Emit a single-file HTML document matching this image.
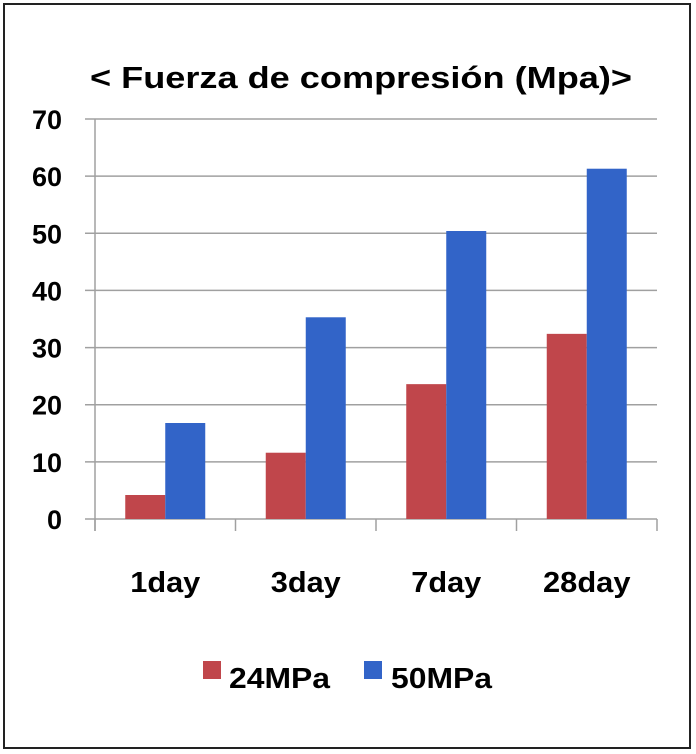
<!DOCTYPE html>
<html><head><meta charset="utf-8"><style>
html,body{margin:0;padding:0;background:#fff;}
svg{display:block;font-family:"Liberation Sans",sans-serif;font-weight:bold;}
</style></head><body>
<svg width="696" height="754" viewBox="0 0 696 754">
<rect x="4" y="4" width="686" height="744" fill="#fff" stroke="#222" stroke-width="2"/>
<text x="90" y="88" font-size="31" textLength="542" lengthAdjust="spacingAndGlyphs" fill="#000">&lt; Fuerza de compresión  (Mpa)&gt;</text>
<g id="grid"></g><g id="bars"></g><g id="axes"></g>
<g>
<rect x="203" y="661" width="18" height="18" fill="#c0464b"/>
<text x="229" y="688" font-size="29" textLength="101" lengthAdjust="spacingAndGlyphs">24MPa</text>
<rect x="364" y="661" width="18" height="18" fill="#3264c8"/>
<text x="391" y="688" font-size="29" textLength="101" lengthAdjust="spacingAndGlyphs">50MPa</text>
</g>
</svg>
<script>
const categories=["1day","3day","7day","28day"];
const series24=[4.2,11.6,23.6,32.4];
const series50=[16.8,35.3,50.4,61.3];
const yTicks=[0,10,20,30,40,50,60,70];
const ns="http://www.w3.org/2000/svg";
const X0=95,X1=657,Y0=519,Y1=119,YMAX=70;
const y=v=>Y0-(v/YMAX)*(Y0-Y1);
const bw=(X1-X0)/categories.length;
function mk(t,a,p){const e=document.createElementNS(ns,t);for(const k in a)e.setAttribute(k,a[k]);p.appendChild(e);return e;}
const grid=document.getElementById('grid'),bars=document.getElementById('bars'),axes=document.getElementById('axes');
yTicks.forEach(v=>{
 const l=mk('line',{x1:85,x2:X1,y1:y(v),y2:y(v),stroke:'#a0a0a0','stroke-width':1.5},grid);
 
 
 const t=mk('text',{x:62,y:y(v)+10,'text-anchor':'end','font-size':27},axes);
 t.textContent=v;
 
 
});
const ax=mk('line',{x1:X0,x2:X0,y1:Y1,y2:531,stroke:'#a0a0a0','stroke-width':1.5},axes);


for(let i=0;i<=categories.length;i++){
 const tk=mk('line',{x1:X0+i*bw,x2:X0+i*bw,y1:Y0,y2:531,stroke:'#a0a0a0','stroke-width':1.5},axes);
 
 
}
categories.forEach((c,i)=>{
 const cx=X0+bw*(i+0.5);
 const r=mk('rect',{x:cx-40,y:y(series24[i]),width:40,height:Y0-y(series24[i]),fill:'#c0464b'},bars);
 
 
 const b=mk('rect',{x:cx,y:y(series50[i]),width:40,height:Y0-y(series50[i]),fill:'#3264c8'},bars);
 
 
 const t=mk('text',{x:cx,y:592,'text-anchor':'middle','font-size':29,textLength:c.length*17.5,lengthAdjust:'spacingAndGlyphs'},axes);
 t.textContent=c;
 
 
});
</script>
</body></html>
